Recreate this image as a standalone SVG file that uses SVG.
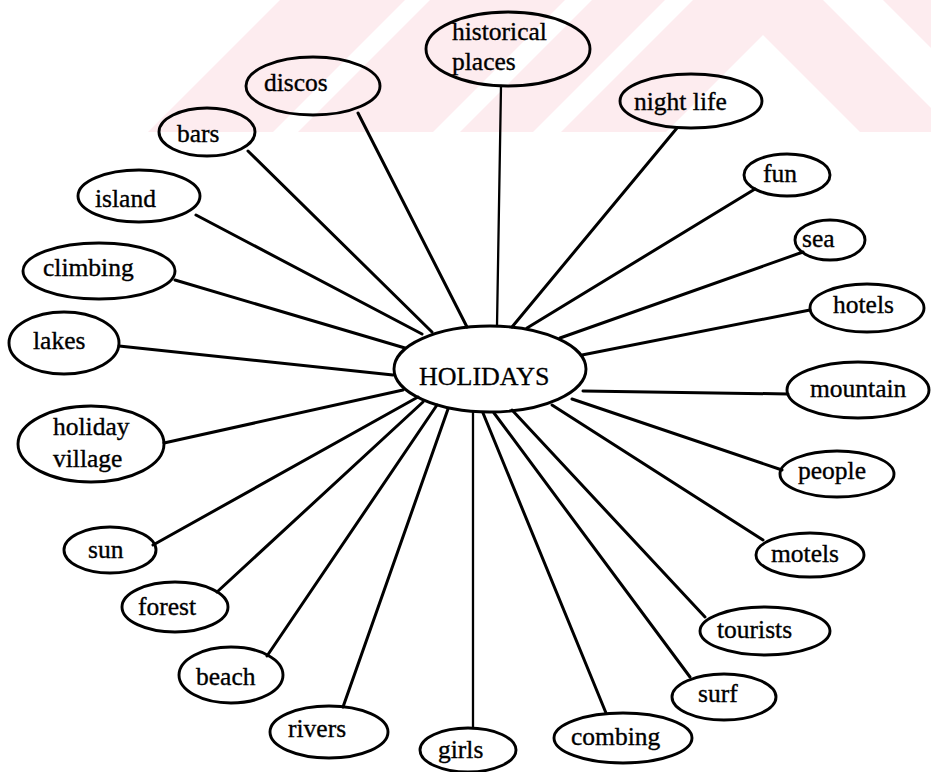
<svg xmlns="http://www.w3.org/2000/svg" width="931" height="772" viewBox="0 0 931 772">
  <style>
    .bg { fill: #ffffff; }
    .wm { fill: #fdecef; }
    .node { fill: none; stroke: #000; stroke-width: 2.9; }
    .link { stroke: #000; stroke-width: 3; stroke-linecap: round; fill: none; }
    .thin { stroke-width: 2.3; }
    .lbl { font-family: "Liberation Serif", "Times New Roman", serif; font-size: 25.5px; fill: #000; stroke: #000; stroke-width: 0.35; }
    .hub { font-family: "Liberation Serif", "Times New Roman", serif; font-size: 26px; fill: #000; stroke: #000; stroke-width: 0.3; }
  </style>

  <rect class="bg" x="0" y="0" width="931" height="772"/>

  <!-- faint background stripes along the top edge -->
  <g id="watermark">
    <polygon class="wm" points="280,0 405,0 273,132 148,132"/>
    <polygon class="wm" points="430,0 565,0 433,132 298,132"/>
    <polygon class="wm" points="592,0 665,0 533,132 460,132"/>
    <polygon class="wm" points="693,0 823,0 955,132 860,132 763,35 666,132 561,132"/>
    <polygon class="wm" points="883,0 931,0 931,48"/>
  </g>

  <!-- spokes from the hub to every topic -->
  <g id="connectors">
    <line class="link thin" x1="501" y1="86" x2="497" y2="326"/>
    <line class="link" x1="358" y1="113" x2="467" y2="327"/>
    <line class="link" x1="248" y1="151" x2="432" y2="332"/>
    <line class="link" x1="196" y1="215" x2="422" y2="334"/>
    <line class="link" x1="175" y1="280" x2="405" y2="348"/>
    <line class="link" x1="119" y1="346" x2="393" y2="375"/>
    <line class="link" x1="164" y1="443" x2="403" y2="390"/>
    <line class="link" x1="153" y1="545" x2="418" y2="397"/>
    <line class="link" x1="217" y1="592" x2="423" y2="402"/>
    <line class="link" x1="267" y1="656" x2="437" y2="405"/>
    <line class="link" x1="343" y1="707" x2="448" y2="409"/>
    <line class="link thin" x1="473" y1="728" x2="473" y2="412"/>
    <line class="link" x1="606" y1="713" x2="483" y2="413"/>
    <line class="link" x1="690" y1="677" x2="494" y2="413"/>
    <line class="link" x1="705" y1="617" x2="512" y2="410"/>
    <line class="link" x1="763" y1="540" x2="552" y2="405"/>
    <line class="link" x1="782" y1="470" x2="572" y2="399"/>
    <line class="link" x1="788" y1="394" x2="583" y2="391"/>
    <line class="link" x1="810" y1="310" x2="582" y2="355"/>
    <line class="link" x1="803" y1="252" x2="560" y2="338"/>
    <line class="link" x1="755" y1="189" x2="527" y2="328"/>
    <line class="link" x1="677" y1="128" x2="512" y2="327"/>
  </g>

  <g id="holidays">
    <ellipse class="node" cx="490" cy="369" rx="96" ry="43"/>
    <text class="hub" x="419" y="385">HOLIDAYS</text>
  </g>

  <g id="historical-places">
    <ellipse class="node" cx="508" cy="49" rx="82" ry="37"/>
    <text class="lbl" x="452" y="40">historical</text>
    <text class="lbl" x="452" y="70">places</text>
  </g>
  <g id="discos">
    <ellipse class="node" cx="313" cy="86" rx="67" ry="29"/>
    <text class="lbl" x="264" y="91">discos</text>
  </g>
  <g id="night-life">
    <ellipse class="node" cx="691" cy="101" rx="71" ry="27"/>
    <text class="lbl" x="634" y="110">night life</text>
  </g>
  <g id="bars">
    <ellipse class="node" cx="207" cy="132" rx="48" ry="24"/>
    <text class="lbl" x="177" y="142">bars</text>
  </g>
  <g id="fun">
    <ellipse class="node" cx="787" cy="175" rx="43" ry="21"/>
    <text class="lbl" x="763" y="182">fun</text>
  </g>
  <g id="island">
    <ellipse class="node" cx="139" cy="196" rx="61" ry="26"/>
    <text class="lbl" x="95" y="207">island</text>
  </g>
  <g id="sea">
    <ellipse class="node" cx="830" cy="240" rx="35" ry="20"/>
    <text class="lbl" x="802" y="247">sea</text>
  </g>
  <g id="climbing">
    <ellipse class="node" cx="99" cy="271" rx="76" ry="28"/>
    <text class="lbl" x="43" y="276">climbing</text>
  </g>
  <g id="hotels">
    <ellipse class="node" cx="867" cy="308" rx="57" ry="24"/>
    <text class="lbl" x="833" y="313">hotels</text>
  </g>
  <g id="lakes">
    <ellipse class="node" cx="64" cy="343" rx="55" ry="31"/>
    <text class="lbl" x="33" y="349">lakes</text>
  </g>
  <g id="mountain">
    <ellipse class="node" cx="858" cy="390" rx="71" ry="28"/>
    <text class="lbl" x="810" y="397">mountain</text>
  </g>
  <g id="holiday-village">
    <ellipse class="node" cx="91" cy="444" rx="73" ry="38"/>
    <text class="lbl" x="53" y="435">holiday</text>
    <text class="lbl" x="53" y="467">village</text>
  </g>
  <g id="people">
    <ellipse class="node" cx="837" cy="474" rx="57" ry="23"/>
    <text class="lbl" x="798" y="479">people</text>
  </g>
  <g id="sun">
    <ellipse class="node" cx="110" cy="550" rx="46" ry="23"/>
    <text class="lbl" x="88" y="558">sun</text>
  </g>
  <g id="motels">
    <ellipse class="node" cx="810" cy="555" rx="54" ry="22"/>
    <text class="lbl" x="771" y="562">motels</text>
  </g>
  <g id="forest">
    <ellipse class="node" cx="175" cy="607" rx="53" ry="25"/>
    <text class="lbl" x="138" y="615">forest</text>
  </g>
  <g id="tourists">
    <ellipse class="node" cx="765" cy="631" rx="65" ry="24"/>
    <text class="lbl" x="717" y="638">tourists</text>
  </g>
  <g id="beach">
    <ellipse class="node" cx="231" cy="675" rx="52" ry="28"/>
    <text class="lbl" x="196" y="685">beach</text>
  </g>
  <g id="surf">
    <ellipse class="node" cx="724" cy="697" rx="52" ry="23"/>
    <text class="lbl" x="698" y="702">surf</text>
  </g>
  <g id="rivers">
    <ellipse class="node" cx="329" cy="732" rx="59" ry="26"/>
    <text class="lbl" x="288" y="737">rivers</text>
  </g>
  <g id="combing">
    <ellipse class="node" cx="623" cy="738" rx="69" ry="25"/>
    <text class="lbl" x="571" y="745">combing</text>
  </g>
  <g id="girls">
    <ellipse class="node" cx="468" cy="750" rx="48" ry="22"/>
    <text class="lbl" x="438" y="758">girls</text>
  </g>
</svg>
